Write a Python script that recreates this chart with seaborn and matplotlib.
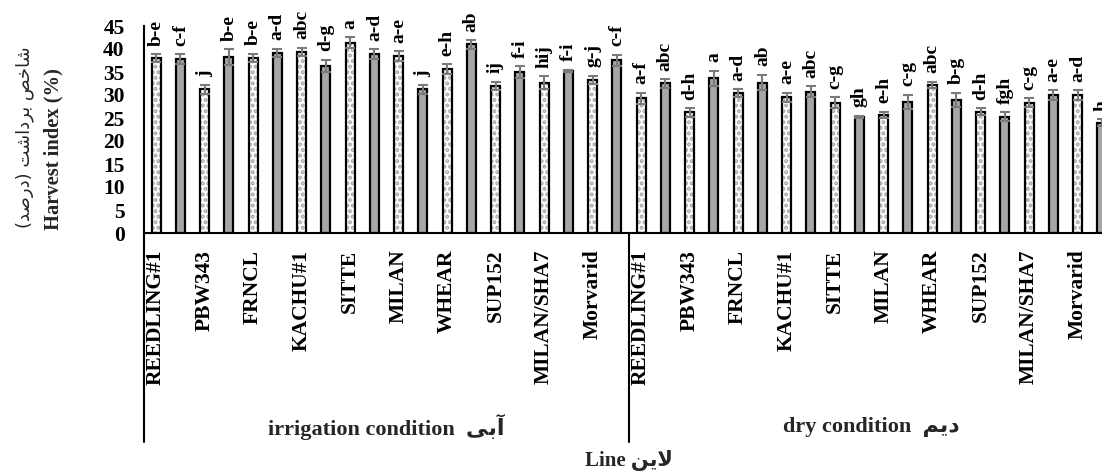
import numpy as np
import pandas as pd
import matplotlib
matplotlib.use("Agg")
import matplotlib.pyplot as plt
import matplotlib.transforms as mtransforms
import seaborn as sns

# ---------------- data ----------------
tick_names = ['REEDLING#1', '', 'PBW343', '', 'FRNCL', '', 'KACHU#1', '', 'SITTE', '',
              'MILAN', '', 'WHEAR', '', 'SUP152', '', 'MILAN/SHA7', '', 'Morvarid', '']
conditions = ['irrigation', 'dry']

irr_values = [38.0, 37.8, 31.2, 38.2, 38.1, 39.2, 39.4, 36.3, 41.4, 38.9,
              38.5, 31.2, 35.6, 41.0, 32.0, 34.9, 32.7, 35.2, 33.3, 37.6]
irr_err = [0.9, 1.1, 0.9, 1.7, 0.9, 0.9, 0.9, 1.4, 1.1, 1.0,
           1.1, 0.9, 1.1, 0.9, 0.9, 1.3, 1.4, 0.3, 0.9, 1.2]
irr_letters = ['b-e', 'c-f', 'j', 'b-e', 'b-e', 'a-d', 'abc', 'd-g', 'a', 'a-d',
               'a-e', 'j', 'e-h', 'ab', 'ij', 'f-i', 'hij', 'f-i', 'g-j', 'c-f']

dry_values = [29.3, 32.5, 26.2, 33.6, 30.4, 32.7, 29.5, 30.7, 28.3, 25.2,
              25.7, 28.5, 32.2, 28.9, 26.4, 25.3, 28.3, 30.0, 30.0, 24.0]
dry_err = [1.2, 0.9, 0.9, 1.7, 0.9, 1.7, 1.0, 1.2, 1.2, 0.3,
           0.7, 1.6, 0.7, 1.6, 0.7, 0.9, 1.0, 1.1, 1.1, 0.8]
dry_letters = ['a-f', 'abc', 'd-h', 'a', 'a-d', 'ab', 'a-e', 'abc', 'c-g', 'gh',
               'e-h', 'c-g', 'abc', 'b-g', 'd-h', 'fgh', 'c-g', 'a-e', 'a-d', 'h']

# Persian text written in visual (shaped) order
FA_YLABEL = "(\uFEAA\uFEBB\uFEAD\uFEA9) \uFE96\uFEB7\uFE8D\uFEA9\uFEAE\uFE91 \uFEBA\uFEA7\uFE8E\uFEB7"  # شاخص برداشت (درصد)
FA_IRR = "\uFBFD\uFE91\uFE81"      # آبی
FA_DRY = "\uFEE2\uFBFE\uFEA9"      # دیم
FA_LINE = "\uFEE6\uFBFE\uFEFB"     # لاین

n = len(irr_values)
df = pd.DataFrame({
    'condition': [conditions[0]] * n + [conditions[1]] * n,
    'slot': list(range(n)) * 2,
    'hi': irr_values + dry_values,
    'se': irr_err + dry_err,
    'letter': irr_letters + dry_letters,
})
df['key'] = df['condition'] + '_' + df['slot'].astype(str)
df['style'] = np.where(df['slot'] % 2 == 0, 'pattern', 'solid')
order = list(df['key'])

GRAY = '#A6A6A6'
DOT = '#A6A6A6'
ERR = '#7a7a7a'

# ---------------- figure ----------------
sns.set_theme(style='white')
plt.rcParams['font.family'] = ['Liberation Serif', 'DejaVu Sans']
plt.rcParams['font.weight'] = 'bold'
plt.rcParams['hatch.linewidth'] = 2.0

W, H = 1102, 473
fig = plt.figure(figsize=(W / 100, H / 100), dpi=100)
ax = fig.add_axes([144 / W, 240 / H, 970 / W, 207 / H])

sns.barplot(data=df, x='key', y='hi', order=order, color=GRAY, saturation=1,
            width=0.37, errorbar=None, linewidth=0, ax=ax)
bars = list(ax.patches)
for p, st in zip(bars, df['style']):
    if st == 'pattern':
        p.set_facecolor('white')
        p.set_edgecolor(DOT)
        p.set_hatch('...')
        p.set_linewidth(0)
    else:
        p.set_edgecolor('none')

n_before = len(ax.patches)
sns.barplot(data=df, x='key', y='hi', order=order, color='white', saturation=1,
            width=0.37, errorbar=None, ax=ax)
for p in ax.patches[n_before:]:
    p.set_facecolor('none')
    p.set_edgecolor('black')
    p.set_linewidth(1.6)

xs = [p.get_x() + p.get_width() / 2 for p in bars]
ax.errorbar(xs, df['hi'], yerr=df['se'], fmt='none', ecolor=ERR,
            elinewidth=1.5, capsize=3.8, capthick=1.5, zorder=5)

for x, v, e, t in zip(xs, df['hi'], df['se'], df['letter']):
    ax.annotate(t, (x, v + e), xytext=(0, 6), textcoords='offset points',
                rotation=90, ha='center', va='bottom', fontsize=14,
                fontweight='bold', annotation_clip=False, color='black')

ax.set_ylim(0, 45)
ax.set_yticks(np.arange(0, 46, 5))
ax.set_xticks(range(2 * n))
ax.set_xticklabels(tick_names * 2, rotation=90, fontsize=15.5, fontweight='bold')
for lab in ax.get_yticklabels():
    lab.set_fontweight('bold')
ax.tick_params(axis='both', length=0, colors='black')
ax.tick_params(axis='y', pad=14, labelsize=15.5)
ax.tick_params(axis='x', pad=12)
ax.set_xlabel('')
ax.set_ylabel('')

sns.despine(ax=ax)
for s in ['left', 'bottom']:
    ax.spines[s].set_color('black')
    ax.spines[s].set_linewidth(1.5)

for xb in [-0.5, n - 0.5]:
    ax.axvline(xb, ymin=-1.01, ymax=0, color='black', lw=1.5, clip_on=False)
ax.set_xlim(-0.5, 2 * n - 0.5)

trans = mtransforms.blended_transform_factory(ax.transData, ax.transAxes)
ax.text((n - 1) / 2, -0.937, 'irrigation condition  ' + FA_IRR, transform=trans,
        ha='center', va='center', fontsize=16, fontweight='bold')
ax.text(n + (n - 1) / 2, -0.937, 'dry condition  ' + FA_DRY, transform=trans,
        ha='center', va='center', fontsize=16, fontweight='bold')
ax.text(n - 0.5, -1.097, 'Line ' + FA_LINE, transform=trans,
        ha='center', va='center', fontsize=15, fontweight='bold')

fig.text(53 / W, 1 - 149 / H, 'Harvest index (%)', rotation=90, ha='center',
         va='center', fontsize=14.8, fontweight='bold')
fig.text(25 / W, 1 - 137 / H, FA_YLABEL, rotation=90, ha='center', va='center',
         fontsize=13, fontweight='normal', family=['DejaVu Sans'])

fig.savefig('out.png', dpi=100)
